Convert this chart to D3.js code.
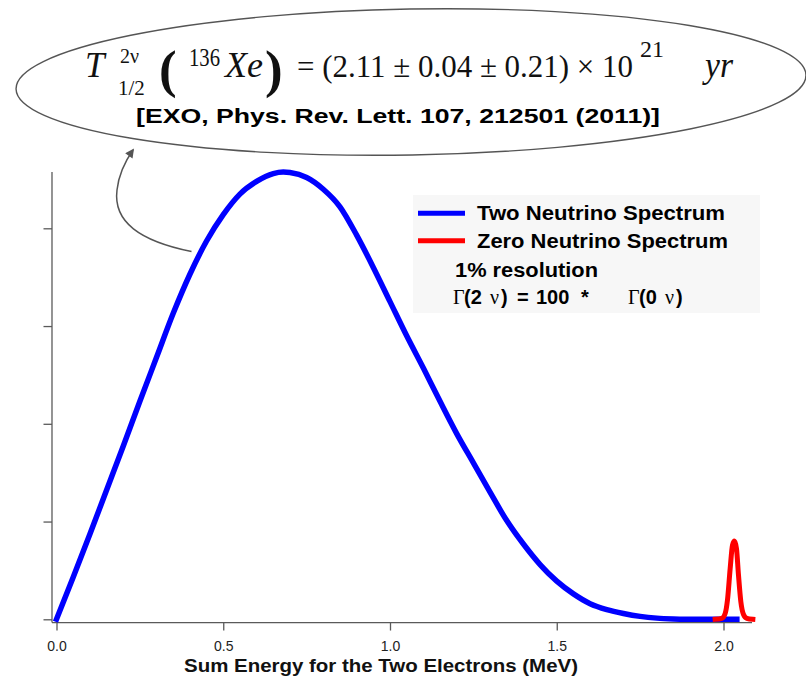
<!DOCTYPE html>
<html>
<head>
<meta charset="utf-8">
<script src="https://cdn.jsdelivr.net/npm/d3@7"></script>
<style>
  body { margin: 0; background: #fff; }
  svg { display: block; }
</style>
</head>
<body>
<svg id="chart" width="806" height="680"></svg>
<script>
// Two-neutrino double-beta spectrum: summed electron energy (MeV) vs. relative rate
const energyTwoNu = [0.00, 0.05, 0.10, 0.15, 0.20, 0.25, 0.30, 0.35, 0.40, 0.45, 0.50, 0.55,
  0.60, 0.65, 0.68, 0.70, 0.75, 0.80, 0.85, 0.90, 0.95, 1.00, 1.05, 1.10, 1.15, 1.20,
  1.25, 1.30, 1.35, 1.40, 1.45, 1.50, 1.55, 1.60, 1.65, 1.70, 1.75, 1.80, 1.85, 1.90,
  1.95, 2.00, 2.04];
const rateTwoNu = [0.00, 0.43, 0.87, 1.32, 1.77, 2.23, 2.68, 3.13, 3.53, 3.87, 4.14, 4.35,
  4.48, 4.56, 4.575, 4.57, 4.52, 4.40, 4.22, 3.93, 3.60, 3.25, 2.90, 2.57, 2.23, 1.90,
  1.60, 1.30, 1.01, 0.77, 0.56, 0.39, 0.26, 0.16, 0.10, 0.06, 0.03, 0.012, 0.004, 0.001,
  0.00, 0.00, 0.00];

// Zero-neutrino peak at the endpoint (1% resolution, rate scaled 1/100)
const energyZeroNu = [1.975, 1.995, 2.005, 2.012, 2.020, 2.027, 2.033, 2.039, 2.045, 2.052,
  2.060, 2.070, 2.088];
const rateZeroNu = [0.00, 0.01, 0.06, 0.20, 0.52, 0.76, 0.80, 0.72, 0.45, 0.18, 0.05, 0.01, 0.00];

const xTicks = [0, 0.5, 1.0, 1.5, 2.0];
const yTicks = [0, 1, 2, 3, 4];
const xFrame = [-0.0135, 2.0855];   // extent of the drawn x axis line
const yFrame = [-0.033, 4.575];     // extent of the drawn y axis line

const seriesNames = ["Two Neutrino Spectrum", "Zero Neutrino Spectrum"];
const seriesColors = ["#0000ff", "#ff0000"];
const xTitle = "Sum Energy for the Two Electrons (MeV)";
const citation = "[EXO, Phys. Rev. Lett. 107, 212501 (2011)]";

const svg = d3.select("#chart");
const sans = "'Liberation Sans', Arial, Helvetica, sans-serif";
const serif = "'Liberation Serif', 'Times New Roman', serif";
const axisColor = "#5a5a5a";

const x = d3.scaleLinear().domain([0, 2]).range([56.5, 723.5]);
const y = d3.scaleLinear().domain([0, 4]).range([619.3, 228.3]);

// ---- half-life callout (ellipse + formula) ----
svg.append("ellipse")
  .attr("cx", 411).attr("cy", 82).attr("rx", 395).attr("ry", 73)
  .attr("transform", "rotate(-1 411 82)")
  .attr("fill", "#fff").attr("stroke", "#555").attr("stroke-width", 1.4);

const f = svg.append("g").attr("font-family", serif).attr("fill", "#111");
f.append("text").attr("x", 85).attr("y", 77).attr("font-size", 35).attr("font-style", "italic").text("T");
f.append("text").attr("x", 120).attr("y", 63).attr("font-size", 20).text("2ν");
f.append("text").attr("x", 118).attr("y", 95).attr("font-size", 21).text("1/2");
f.append("text").attr("x", 159).attr("y", 87).attr("font-size", 53).attr("font-weight", "bold").text("(");
f.append("text").attr("x", 189).attr("y", 66).attr("font-size", 25)
  .attr("textLength", 31).attr("lengthAdjust", "spacingAndGlyphs").text("136");
f.append("text").attr("x", 225).attr("y", 77).attr("font-size", 35).attr("font-style", "italic")
  .attr("textLength", 38).attr("lengthAdjust", "spacingAndGlyphs").text("Xe");
f.append("text").attr("x", 265).attr("y", 87).attr("font-size", 53).attr("font-weight", "bold").text(")");
f.append("text").attr("x", 297).attr("y", 77).attr("font-size", 31)
  .attr("textLength", 336).attr("lengthAdjust", "spacingAndGlyphs")
  .text("= (2.11 ± 0.04 ± 0.21) × 10");
f.append("text").attr("x", 640).attr("y", 57).attr("font-size", 24)
  .attr("textLength", 24).attr("lengthAdjust", "spacingAndGlyphs").text("21");
f.append("text").attr("x", 705).attr("y", 77).attr("font-size", 35).attr("font-style", "italic")
  .attr("textLength", 28).attr("lengthAdjust", "spacingAndGlyphs").text("yr");

svg.append("text")
  .attr("x", 136).attr("y", 123)
  .attr("font-family", sans).attr("font-weight", "bold").attr("font-size", 20)
  .attr("textLength", 524).attr("lengthAdjust", "spacingAndGlyphs")
  .attr("fill", "#000").text(citation);

// ---- arrow from the spectrum to the callout ----
const defs = svg.append("defs");
defs.append("marker")
  .attr("id", "arrowHead").attr("viewBox", "0 0 10 10")
  .attr("refX", 8).attr("refY", 5)
  .attr("markerWidth", 11).attr("markerHeight", 9)
  .attr("markerUnits", "userSpaceOnUse")
  .attr("orient", "auto")
  .append("path").attr("d", "M0,0 L10,5 L0,10 z").attr("fill", "#555");

svg.append("path")
  .attr("d", "M191.5,251.5 C140,241 113,222 117,190 C119,172 126,160 133,150")
  .attr("fill", "none").attr("stroke", "#555").attr("stroke-width", 1.5)
  .attr("marker-end", "url(#arrowHead)");

// ---- axes ----
const xAxisY = y(yFrame[0]);
const yAxisX = x(xFrame[0]);

svg.append("line")
  .attr("x1", x(xFrame[0])).attr("x2", x(xFrame[1]))
  .attr("y1", xAxisY).attr("y2", xAxisY)
  .attr("stroke", axisColor).attr("stroke-width", 1.3);
svg.append("line")
  .attr("x1", yAxisX).attr("x2", yAxisX)
  .attr("y1", y(yFrame[0])).attr("y2", y(yFrame[1]))
  .attr("stroke", axisColor).attr("stroke-width", 1.3);

const xAxis = svg.append("g")
  .attr("transform", `translate(0,${xAxisY})`)
  .call(d3.axisBottom(x).tickValues(xTicks).tickFormat(d3.format(".1f")).tickSize(8).tickPadding(11));
xAxis.select(".domain").remove();
xAxis.selectAll(".tick line").attr("stroke", axisColor).attr("stroke-width", 1.3);
xAxis.selectAll(".tick text")
  .attr("font-family", sans).attr("font-size", 14).attr("fill", "#222");

const yAxis = svg.append("g")
  .attr("transform", `translate(${yAxisX},0)`)
  .call(d3.axisLeft(y).tickValues(yTicks).tickFormat("").tickSize(8.5));
yAxis.select(".domain").remove();
yAxis.selectAll(".tick line").attr("stroke", axisColor).attr("stroke-width", 1.3);

svg.append("text")
  .attr("x", 381).attr("y", 672)
  .attr("text-anchor", "middle")
  .attr("font-family", sans).attr("font-weight", "bold").attr("font-size", 18)
  .attr("textLength", 394).attr("lengthAdjust", "spacingAndGlyphs")
  .attr("fill", "#111").text(xTitle);

// ---- legend ----
svg.append("rect")
  .attr("x", 413).attr("y", 195).attr("width", 347).attr("height", 118)
  .attr("fill", "#f7f7f7");

// ---- spectra ----
const line = d3.line().x(d => x(d[0])).y(d => y(d[1])).curve(d3.curveMonotoneX);

svg.append("path")
  .datum(energyTwoNu.map((e, i) => [e, rateTwoNu[i]]))
  .attr("d", line)
  .attr("fill", "none").attr("stroke", seriesColors[0])
  .attr("stroke-width", 5.5).attr("stroke-linejoin", "round").attr("stroke-linecap", "square");

svg.append("path")
  .datum(energyZeroNu.map((e, i) => [e, rateZeroNu[i]]))
  .attr("d", line)
  .attr("fill", "none").attr("stroke", seriesColors[1])
  .attr("stroke-width", 5).attr("stroke-linejoin", "round").attr("stroke-linecap", "square");

const lg = svg.append("g").attr("font-family", sans).attr("font-weight", "bold")
  .attr("font-size", 20).attr("fill", "#000");

const legendRows = [
  { y: 213.3, tx: 477, ty: 219.5, len: 248 },
  { y: 240.8, tx: 477, ty: 248.3, len: 251 }
];
legendRows.forEach((r, i) => {
  lg.append("line")
    .attr("x1", 418).attr("x2", 465).attr("y1", r.y).attr("y2", r.y)
    .attr("stroke", seriesColors[i]).attr("stroke-width", 5);
  lg.append("text").attr("x", r.tx).attr("y", r.ty)
    .attr("textLength", r.len).attr("lengthAdjust", "spacingAndGlyphs")
    .text(seriesNames[i]);
});

lg.append("text").attr("x", 455).attr("y", 276.5)
  .attr("textLength", 143).attr("lengthAdjust", "spacingAndGlyphs")
  .text("1% resolution");

// Γ(2 ν) = 100 *   Γ(0 ν)
const gRow = lg.append("text").attr("y", 303.5);
gRow.append("tspan").attr("x", 453).attr("font-family", serif).attr("font-weight", "normal").text("Γ");
gRow.append("tspan").attr("x", 464).text("(2");
gRow.append("tspan").attr("x", 490).attr("font-family", serif).attr("font-weight", "normal").text("ν");
gRow.append("tspan").attr("x", 501).text(")");
gRow.append("tspan").attr("x", 517).text("=");
gRow.append("tspan").attr("x", 536).text("100");
gRow.append("tspan").attr("x", 581).text("*");
gRow.append("tspan").attr("x", 628).attr("font-family", serif).attr("font-weight", "normal").text("Γ");
gRow.append("tspan").attr("x", 639).text("(0");
gRow.append("tspan").attr("x", 665).attr("font-family", serif).attr("font-weight", "normal").text("ν");
gRow.append("tspan").attr("x", 676).text(")");
</script>
</body>
</html>
